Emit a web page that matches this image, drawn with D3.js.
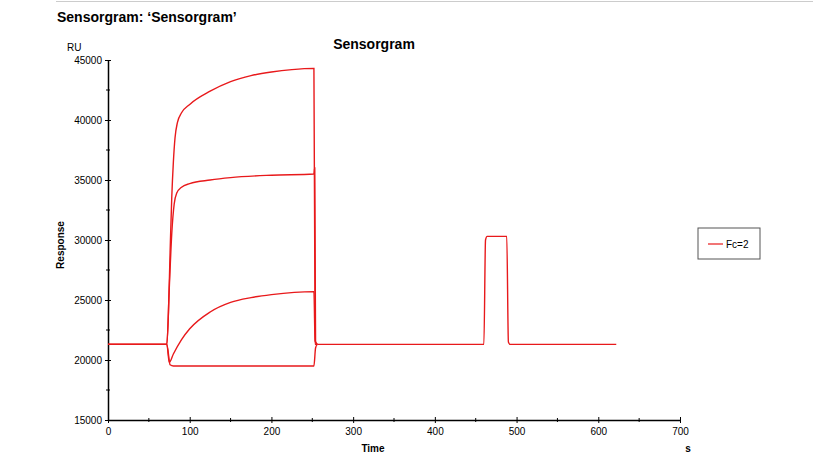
<!DOCTYPE html>
<html><head><meta charset="utf-8">
<script src="https://cdn.jsdelivr.net/npm/d3@7"></script>
<style>body{margin:0;background:#fff;font-family:Arial,"Liberation Sans",sans-serif}</style>
</head><body><svg id="c" width="813" height="460"></svg>
<script>
const cycle1 = [[0,21300],[72,21300],[74,24000],[76,29000],[78,33500],[80,36500],[82,38500],[85,39800],[90,40600],[100,41300],[125,42400],[150,43200],[175,43700],[200,44000],[225,44200],[252,44300],[253.5,21600],[256,21300]];
const cycle2 = [[0,21300],[72,21300],[75,26000],[78,30500],[81,33000],[84,33900],[90,34400],[100,34700],[125,35000],[150,35200],[200,35400],[252,35500],[253,36000],[254,21500],[256,21300]];
const cycle3 = [[0,21300],[72,21300],[75,19800],[80,20500],[90,21700],[100,22600],[125,24000],[150,24800],[175,25200],[200,25450],[252,25700],[253.5,21300],[256,21300]];
const cycle4 = [[0,21300],[72,21300],[76,19600],[80,19500],[252,19500],[254,21000],[256,21300]];
const tail = [[256,21300],[460,21300],[462,30000],[464,30300],[488,30300],[490,21500],[492,21300],[622,21300]];
const xTicks = [0,100,200,300,400,500,600,700];
const yTicks = [15000,20000,25000,30000,35000,40000,45000];
const legendLabel = "Fc=2";

const svg = d3.select("#c");
const x = d3.scaleLinear().domain([0,700]).range([108,680]);
const y = d3.scaleLinear().domain([15000,45000]).range([420,60]);
const red = "#e8191b";

svg.append("line").attr("x1",56).attr("x2",813).attr("y1",1.5).attr("y2",1.5).attr("stroke","#ccc");
svg.append("text").attr("x",57).attr("y",22).attr("font-size",14).attr("font-weight","bold").text("Sensorgram: \u2018Sensorgram\u2019");
svg.append("text").attr("x",374).attr("y",49).attr("text-anchor","middle").attr("font-size",14).attr("font-weight","bold").text("Sensorgram");
svg.append("text").attr("x",67).attr("y",51).attr("font-size",10).text("RU");

const xa = svg.append("g").attr("transform","translate(0,420)")
 .call(d3.axisBottom(x).tickValues(xTicks).tickFormat(d3.format("d")).tickSize(6).tickSizeOuter(0));
xa.selectAll(".tick line").attr("y1",-3).attr("y2",3);
xa.selectAll(".tick text").attr("y",8).attr("font-size",10).attr("font-family","Arial");
xa.append("g").selectAll("line").data(d3.range(50,700,100)).join("line")
 .attr("x1",d=>x(d)).attr("x2",d=>x(d)).attr("y1",-2).attr("y2",2).attr("stroke","#000");
const ya = svg.append("g").attr("transform","translate(108,0)")
 .call(d3.axisLeft(y).tickValues(yTicks).tickFormat(d3.format("d")).tickSize(6).tickSizeOuter(0));
ya.selectAll(".tick line").attr("x1",-3).attr("x2",3);
ya.selectAll(".tick text").attr("x",-6).attr("font-size",10).attr("font-family","Arial");
ya.append("g").selectAll("line").data(d3.range(17500,45000,5000)).join("line")
 .attr("y1",d=>y(d)).attr("y2",d=>y(d)).attr("x1",-2).attr("x2",2).attr("stroke","#000");
svg.selectAll(".domain").attr("stroke","#000").attr("stroke-width",1.5);

svg.append("text").attr("transform","translate(64,245) rotate(-90)").attr("text-anchor","middle").attr("font-size",10).attr("font-weight","bold").text("Response");
svg.append("text").attr("x",373).attr("y",452).attr("text-anchor","middle").attr("font-size",10).attr("font-weight","bold").text("Time");
svg.append("text").attr("x",688).attr("y",452).attr("text-anchor","middle").attr("font-size",10).attr("font-weight","bold").text("s");

const line = d3.line().x(d=>x(d[0])).y(d=>y(d[1])).curve(d3.curveMonotoneX);
[cycle1,cycle2,cycle3,cycle4,tail].forEach(c=>{
 svg.append("path").datum(c).attr("d",line).attr("fill","none").attr("stroke",red).attr("stroke-width",1.4);
});

const lg = svg.append("g");
lg.append("rect").attr("x",698).attr("y",228).attr("width",62).attr("height",31).attr("fill","#fff").attr("stroke","#555").attr("stroke-width",1);
lg.append("line").attr("x1",708).attr("x2",723).attr("y1",244).attr("y2",244).attr("stroke",red).attr("stroke-width",1.2);
lg.append("text").attr("x",726).attr("y",248).attr("font-size",10).text(legendLabel);
</script></body></html>
